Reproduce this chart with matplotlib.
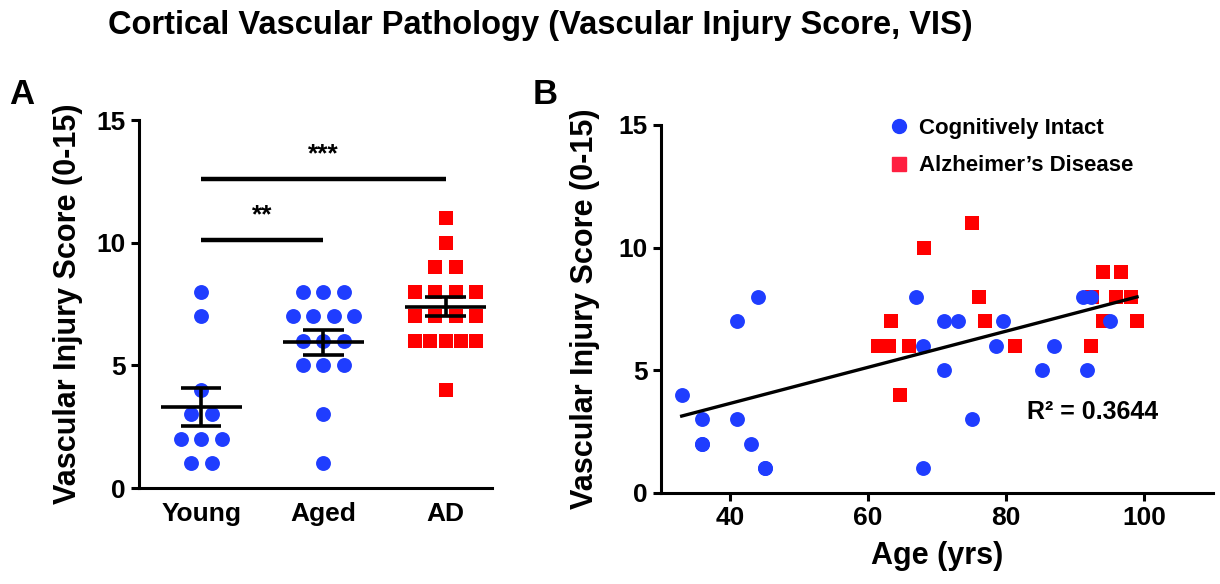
import numpy as np
import matplotlib
matplotlib.use('Agg')
import matplotlib.pyplot as plt
from matplotlib.lines import Line2D

plt.rcParams['font.family'] = ['Liberation Sans', 'DejaVu Sans']
plt.rcParams['font.weight'] = 'bold'

BLUE = '#1f3dff'
RED = '#ff0000'

# Panel A: vascular injury score per group
groups = ['Young', 'Aged', 'AD']
young_vis = [8, 7, 4, 3, 3, 2, 2, 2, 1, 1]
aged_vis = [8, 8, 8, 7, 7, 7, 7, 6, 6, 6, 5, 5, 5, 3, 1]
ad_vis = [11, 10, 9, 9, 8, 8, 8, 8, 7, 7, 7, 7, 6, 6, 6, 6, 6, 4]

# Panel B: age vs score (two young points hidden under others)
ci_age = [33, 36, 36, 36, 41, 41, 44, 43, 45, 45,
          67, 68, 68, 71, 73, 71, 75, 79.6, 78.5, 85.2, 86.9, 91.1, 92.3, 91.7, 95]
ci_vis = [4, 3, 2, 2, 7, 3, 8, 2, 1, 1,
          8, 6, 1, 7, 7, 5, 3, 7, 6, 5, 6, 8, 8, 5, 7]
ad_age = [68.1, 75, 76.1, 77, 63.3, 61.4, 63.1, 66, 64.7, 81.3,
          94, 96.7, 92.5, 95.9, 98.1, 94, 99, 92.3]
ad_age_vis = [10, 11, 8, 7, 7, 6, 6, 6, 4, 6,
              9, 9, 8, 8, 8, 7, 7, 6]
r2_text = 'R\u00b2 = 0.3644'


def swarm_x(values, center, step=0.17, max_width=0.5):
    values = np.asarray(values, dtype=float)
    xs = np.zeros_like(values)
    for v in np.unique(values):
        idx = np.where(values == v)[0]
        n = len(idx)
        s = step if n < 2 else min(step, max_width / (n - 1))
        xs[idx] = center + (np.arange(n) - (n - 1) / 2) * s
    return xs


def style_axes(ax):
    for side in ['top', 'right']:
        ax.spines[side].set_visible(False)
    for side in ['left', 'bottom']:
        ax.spines[side].set_linewidth(2.2)
    ax.tick_params(width=2.2, length=6, labelsize=19)
    for lab in ax.get_xticklabels() + ax.get_yticklabels():
        lab.set_fontweight('bold')


fig = plt.figure(figsize=(12.2, 5.84), dpi=100)

# ---------- Panel A ----------
axA = fig.add_axes([139 / 1220, 96 / 584, 353 / 1220, 368 / 584])
for i, (vals, color, marker) in enumerate([(young_vis, BLUE, 'o'),
                                           (aged_vis, BLUE, 'o'),
                                           (ad_vis, RED, 's')]):
    xs = swarm_x(vals, i)
    axA.scatter(xs, vals, s=115, c=color, marker=marker, linewidths=0, zorder=2)
    m = np.mean(vals)
    sem = np.std(vals, ddof=1) / np.sqrt(len(vals))
    axA.hlines(m, i - 0.33, i + 0.33, color='black', lw=2.6, zorder=3)
    axA.hlines([m - sem, m + sem], i - 0.165, i + 0.165, color='black', lw=2.6, zorder=3)
    axA.vlines(i, m - sem, m + sem, color='black', lw=2.6, zorder=3)

# significance bars
axA.plot([0, 1], [10.1, 10.1], color='black', lw=3.2, solid_capstyle='butt')
axA.text(0.5, 11.1, '**', ha='center', va='center', fontsize=19, fontweight='bold')
axA.plot([0, 2], [12.6, 12.6], color='black', lw=3.2, solid_capstyle='butt')
axA.text(1.0, 13.6, '***', ha='center', va='center', fontsize=19, fontweight='bold')

axA.set_xlim(-0.51, 2.38)
axA.set_ylim(0, 15)
axA.set_yticks([0, 5, 10, 15])
axA.set_xticks(range(3))
axA.set_xticklabels(groups)
style_axes(axA)
axA.tick_params(axis='x', length=0, pad=10)
axA.set_ylabel('Vascular Injury Score (0-15)', fontsize=22, fontweight='bold')
axA.yaxis.set_label_coords(-0.16, 0.5)

# ---------- Panel B ----------
axB = fig.add_axes([661 / 1220, 91 / 584, 552 / 1220, 368 / 584])
axB.scatter(ad_age, ad_age_vis, s=105, c=RED, marker='s', linewidths=0, zorder=2)
axB.scatter(ci_age, ci_vis, s=115, c=BLUE, marker='o', linewidths=0, zorder=3)

all_age = np.array(ci_age + ad_age)
all_vis = np.array(ci_vis + ad_age_vis)
slope, icpt = np.polyfit(all_age, all_vis, 1)
xfit = np.array([all_age.min(), all_age.max()])
axB.plot(xfit, slope * xfit + icpt, color='black', lw=2.4, zorder=4)
axB.text(0.663, 0.22, r2_text, transform=axB.transAxes, fontsize=18,
         fontweight='bold', va='center', ha='left')

axB.set_xlim(30, 110)
axB.set_ylim(0, 15)
axB.set_xticks([40, 60, 80, 100])
axB.set_yticks([0, 5, 10, 15])
style_axes(axB)
axB.set_ylabel('Vascular Injury Score (0-15)', fontsize=22, fontweight='bold')
axB.yaxis.set_label_coords(-0.11, 0.5)
axB.set_xlabel('Age (yrs)', fontsize=22, fontweight='bold', labelpad=8)

handles = [Line2D([], [], ls='none', marker='o', color=BLUE, markersize=10),
           Line2D([], [], ls='none', marker='s', color='#ff1f40', markersize=9.5)]
axB.legend(handles, ['Cognitively Intact', "Alzheimer\u2019s Disease"],
           loc='upper left', bbox_to_anchor=(0.374, 1.074), frameon=False,
           handlelength=1.0, handletextpad=0.4, labelspacing=0.75,
           prop={'weight': 'bold', 'size': 16})

# ---------- labels ----------
fig.text(0.443, 0.957, 'Cortical Vascular Pathology (Vascular Injury Score, VIS)',
         ha='center', va='center', fontsize=23.5, fontweight='bold')
fig.text(22 / 1220, 1 - 95 / 584, 'A', ha='center', va='center', fontsize=25, fontweight='bold')
fig.text(545 / 1220, 1 - 95 / 584, 'B', ha='center', va='center', fontsize=25, fontweight='bold')

fig.savefig('out.png', dpi=100)
